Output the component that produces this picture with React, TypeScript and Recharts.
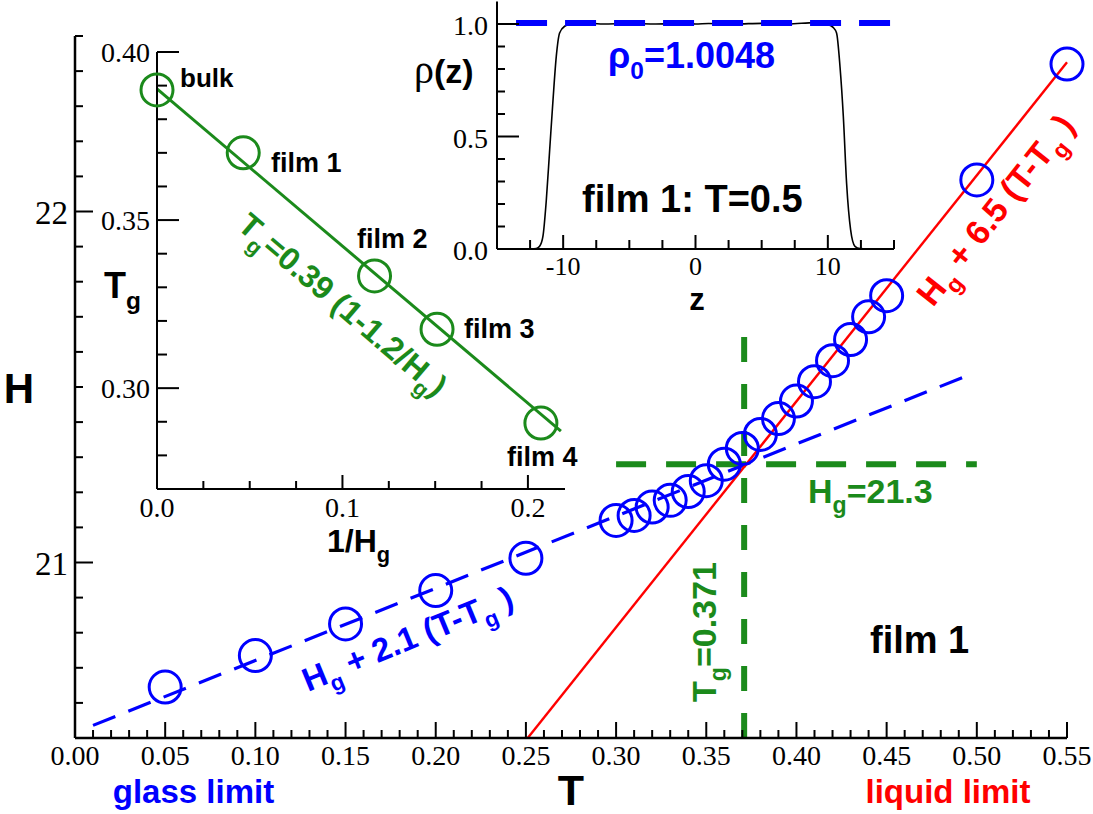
import React from "react";
import { ComposedChart, Line, Scatter, XAxis, YAxis, ReferenceLine } from "recharts";

// main panel: H(T) for film 1
const temps = [0.05, 0.1, 0.15, 0.2, 0.25, 0.3, 0.31, 0.32, 0.33, 0.34, 0.35, 0.36, 0.37, 0.38, 0.39, 0.4, 0.41, 0.42, 0.43, 0.44, 0.45, 0.5, 0.55];
const heights = [20.645, 20.735, 20.825, 20.92, 21.012, 21.12, 21.134, 21.158, 21.177, 21.202, 21.233, 21.28, 21.325, 21.365, 21.41, 21.46, 21.515, 21.575, 21.635, 21.7, 21.76, 22.09, 22.42];
const glassFitT = [0.01, 0.495];
const glassFitH = [20.536, 21.533];
const liquidFitT = [0.251, 0.55];
const liquidFitH = [20.5, 22.425];
const tgLine = { t: 0.371, hFrom: 20.5, hTo: 21.7 };
const hgLine = { h: 21.28, tFrom: 0.3, tTo: 0.5 };

// inset: Tg vs 1/Hg
const invH = [0, 0.0465, 0.1173, 0.151, 0.207];
const tgValues = [0.3887, 0.37, 0.3334, 0.3175, 0.2896];
const tgFitX = [0, 0.2178];
const tgFitY = [0.389, 0.2872];

// inset: density profile rho(z), film 1 at T=0.5
const zValues = [-15, -13, -12.4, -12.03, -11.78, -11.53, -11.27, -11.02, -10.77, -10.52, -10.27, -9.89, -9.38, -9, -7, -5, -3, -1, 0, 1, 3, 5, 7, 9, 9.5, 10.03, 10.4, 10.66, 10.92, 11.17, 11.42, 11.72, 12.05, 12.43, 13, 15];
const rhoValues = [0, 0, 0, 0.002, 0.012, 0.056, 0.22, 0.44, 0.66, 0.856, 0.96, 0.99, 1.0, 1.006, 1.0, 1.002, 1.0, 1.003, 1.0, 1.002, 1.0, 1.003, 1.0, 1.006, 1.0, 0.997, 0.985, 0.96, 0.81, 0.59, 0.29, 0.086, 0.012, 0.002, 0, 0];
const rhoBulkZ = [-13.56, 15];
const rhoBulk = 1.0048;

// axis ticks
const mainXMajor = [0, 0.05, 0.1, 0.15, 0.2, 0.25, 0.3, 0.35, 0.4, 0.45, 0.5, 0.55];
const mainXLabels = ["0.00", "0.05", "0.10", "0.15", "0.20", "0.25", "0.30", "0.35", "0.40", "0.45", "0.50", "0.55"];
const mainYMajor = [21, 22];
const mainYLabels = ["21", "22"];
const tgYMajor = [0.3, 0.35, 0.4];
const tgYLabels = ["0.30", "0.35", "0.40"];
const tgXMajor = [0, 0.1, 0.2];
const tgXLabels = ["0.0", "0.1", "0.2"];
const rhoYMajor = [0, 0.5, 1.0];
const rhoYLabels = ["0.0", "0.5", "1.0"];
const rhoXMajor = [-10, 0, 10];
const rhoXLabels = ["-10", "0", "10"];

const steps = (from: number, to: number, step: number) => {
  const out: number[] = [];
  for (let i = 0; from + i * step <= to + 1e-9; i++) out.push(+(from + i * step).toFixed(4));
  return out;
};
const withMinor = (majors: number[], minors: number[]) =>
  [...majors, ...minors.filter((m) => !majors.some((v) => Math.abs(v - m) < 1e-9))].sort((a, b) => a - b);

const mainXTicks = withMinor(mainXMajor, steps(0.01, 0.54, 0.01));
const mainYTicks = withMinor(mainYMajor, steps(20.6, 22.5, 0.1));
const tgYTicks = withMinor(tgYMajor, steps(0.28, 0.39, 0.01));
const tgXTicks = withMinor(tgXMajor, steps(0.025, 0.175, 0.025));
const rhoYTicks = withMinor(rhoYMajor, steps(0.1, 0.9, 0.1));
const rhoXTicks = withMinor(rhoXMajor, steps(-12.5, 15, 2.5));

const BLUE = "#0000ff";
const RED = "#ff0000";
const GREEN = "#1b8a1b";
const SANS = "'Liberation Sans', Arial, sans-serif";
const SERIF = "'Liberation Serif', 'Times New Roman', Times, serif";

const mainData = temps.map((t, i) => ({ T: t, H: heights[i] }));
const glassData = glassFitT.map((t, i) => ({ T: t, H: glassFitH[i] }));
const liquidData = liquidFitT.map((t, i) => ({ T: t, H: liquidFitH[i] }));
const tgData = invH.map((x, i) => ({ x, tg: tgValues[i] }));
const tgFitData = tgFitX.map((x, i) => ({ x, tg: tgFitY[i] }));
const rhoData = zValues.map((z, i) => ({ z, rho: rhoValues[i] }));
const rhoBulkData = rhoBulkZ.map((z) => ({ z, rho: rhoBulk }));

type TickOpts = {
  side: "bottom" | "left";
  majors: number[];
  labels: string[];
  majorLen: number;
  minorLen: number;
  fontSize: number;
  offset: number;
  dy?: number;
  width?: number;
};

const makeTick = (o: TickOpts) => (props: any) => {
  const { x, y, payload } = props;
  const idx = o.majors.findIndex((m) => Math.abs(m - payload.value) < 1e-9);
  const len = idx >= 0 ? o.majorLen : o.minorLen;
  const w = o.width ?? 2;
  const labelStyle = { fontFamily: SERIF, fontSize: o.fontSize, fill: "#000" };
  if (o.side === "bottom") {
    return (
      <g>
        <line x1={x} y1={y} x2={x} y2={y - len} stroke="#000" strokeWidth={w} />
        {idx >= 0 && (
          <text x={x} y={y + o.offset} textAnchor="middle" style={labelStyle}>
            {o.labels[idx]}
          </text>
        )}
      </g>
    );
  }
  return (
    <g>
      <line x1={x} y1={y} x2={x + len} y2={y} stroke="#000" strokeWidth={w} />
      {idx >= 0 && (
        <text x={x - o.offset} y={y + (o.dy ?? 0)} textAnchor="end" style={labelStyle}>
          {o.labels[idx]}
        </text>
      )}
    </g>
  );
};

const circleShape = (color: string) => (props: any) =>
  <circle cx={props.cx} cy={props.cy} r={16} fill="none" stroke={color} strokeWidth={3} />;

const Sub = ({ base, sub, rest, fs }: { base: string; sub: string; rest?: string; fs: number }) => (
  <>
    <tspan>{base}</tspan>
    <tspan dy={fs * 0.3} fontSize={fs * 0.68}>{sub}</tspan>
    {rest !== undefined && <tspan dy={-fs * 0.3}>{rest}</tspan>}
  </>
);

const W = 1093;
const Hh = 814;

function MainChart() {
  return (
    <ComposedChart width={W} height={Hh} data={mainData} margin={{ top: 36, right: 26, left: 15, bottom: 46 }}>
      <XAxis
        dataKey="T"
        type="number"
        domain={[0, 0.55]}
        ticks={mainXTicks}
        interval={0}
        height={30}
        tickSize={0}
        tickMargin={0}
        tickLine={false}
        axisLine={{ stroke: "#000", strokeWidth: 2.5 }}
        tick={makeTick({ side: "bottom", majors: mainXMajor, labels: mainXLabels, majorLen: 16, minorLen: 8, fontSize: 28, offset: 27 })}
      />
      <YAxis
        dataKey="H"
        type="number"
        domain={[20.5, 22.5]}
        ticks={mainYTicks}
        interval={0}
        width={60}
        tickSize={0}
        tickMargin={0}
        tickLine={false}
        axisLine={{ stroke: "#000", strokeWidth: 2.5 }}
        tick={makeTick({ side: "left", majors: mainYMajor, labels: mainYLabels, majorLen: 18, minorLen: 8, fontSize: 33, offset: 7, dy: 12 })}
      />
      <ReferenceLine
        segment={[{ x: tgLine.t, y: tgLine.hFrom }, { x: tgLine.t, y: tgLine.hTo }]}
        stroke={GREEN}
        strokeWidth={6}
        strokeDasharray="25 22"
      />
      <ReferenceLine
        segment={[{ x: hgLine.tFrom, y: hgLine.h }, { x: hgLine.tTo, y: hgLine.h }]}
        stroke={GREEN}
        strokeWidth={6}
        strokeDasharray="30 20"
      />
      <Line data={glassData} dataKey="H" type="linear" dot={false} stroke={BLUE} strokeWidth={3.2} strokeDasharray="24 14" isAnimationActive={false} />
      <Line data={liquidData} dataKey="H" type="linear" dot={false} stroke={RED} strokeWidth={2.4} isAnimationActive={false} />
      <Scatter data={mainData} shape={circleShape(BLUE)} isAnimationActive={false} />
    </ComposedChart>
  );
}

function TgInset() {
  return (
    <ComposedChart width={W} height={Hh} data={tgData} margin={{ top: 52, right: 528, left: 97, bottom: 295 }}>
      <XAxis
        dataKey="x"
        type="number"
        domain={[0, 0.22]}
        ticks={tgXTicks}
        interval={0}
        height={30}
        tickSize={0}
        tickMargin={0}
        tickLine={false}
        axisLine={{ stroke: "#000", strokeWidth: 2 }}
        tick={makeTick({ side: "bottom", majors: tgXMajor, labels: tgXLabels, majorLen: 14, minorLen: 8, fontSize: 28, offset: 28 })}
      />
      <YAxis
        dataKey="tg"
        type="number"
        domain={[0.27, 0.4]}
        ticks={tgYTicks}
        interval={0}
        width={60}
        tickSize={0}
        tickMargin={0}
        tickLine={false}
        axisLine={{ stroke: "#000", strokeWidth: 2 }}
        tick={makeTick({ side: "left", majors: tgYMajor, labels: tgYLabels, majorLen: 22, minorLen: 10, fontSize: 28, offset: 7, dy: 10 })}
      />
      <Line data={tgFitData} dataKey="tg" type="linear" dot={false} stroke={GREEN} strokeWidth={3} isAnimationActive={false} />
      <Scatter data={tgData} shape={circleShape(GREEN)} isAnimationActive={false} />
    </ComposedChart>
  );
}

function RhoInset() {
  return (
    <ComposedChart width={W} height={Hh} data={rhoData} margin={{ top: 1.5, right: 199, left: 437, bottom: 535 }}>
      <XAxis
        dataKey="z"
        type="number"
        domain={[-15, 15]}
        ticks={rhoXTicks}
        interval={0}
        height={30}
        tickSize={0}
        tickMargin={0}
        tickLine={false}
        axisLine={{ stroke: "#000", strokeWidth: 2 }}
        tick={makeTick({ side: "bottom", majors: rhoXMajor, labels: rhoXLabels, majorLen: 14, minorLen: 9, fontSize: 26, offset: 26 })}
      />
      <YAxis
        dataKey="rho"
        type="number"
        domain={[0, 1.1]}
        ticks={rhoYTicks}
        interval={0}
        width={60}
        tickSize={0}
        tickMargin={0}
        tickLine={false}
        axisLine={{ stroke: "#000", strokeWidth: 2 }}
        tick={makeTick({ side: "left", majors: rhoYMajor, labels: rhoYLabels, majorLen: 22, minorLen: 8, fontSize: 28, offset: 9, dy: 11 })}
      />
      <Line data={rhoData} dataKey="rho" type="monotone" dot={false} stroke="#000" strokeWidth={1.6} isAnimationActive={false} />
      <Line data={rhoBulkData} dataKey="rho" type="linear" dot={false} stroke={BLUE} strokeWidth={6} strokeDasharray="31 18" isAnimationActive={false} />
    </ComposedChart>
  );
}

function Annotations() {
  const bold = { fontFamily: SANS, fontWeight: 700 } as const;
  return (
    <svg width={W} height={Hh} style={{ position: "absolute", left: 0, top: 0 }}>
      {/* main panel */}
      <text x={19} y={403} fontSize={42} textAnchor="middle" style={bold}>H</text>
      <text x={571} y={805} fontSize={43} textAnchor="middle" style={bold}>T</text>
      <text x={193.5} y={803} fontSize={33} textAnchor="middle" fill={BLUE} style={bold}>glass limit</text>
      <text x={948} y={803} fontSize={33} textAnchor="middle" fill={RED} style={bold}>liquid limit</text>
      <text x={870} y={653} fontSize={38} style={bold}>film 1</text>
      <text x={808} y={503} fontSize={34} fill={GREEN} style={bold}>
        <Sub base="H" sub="g" rest="=21.3" fs={34} />
      </text>
      <text transform="translate(716,702) rotate(-90)" fontSize={34} fill={GREEN} style={bold}>
        <Sub base="T" sub="g" rest="=0.371" fs={34} />
      </text>
      <text transform="translate(308,692) rotate(-22.4)" fontSize={33} fill={BLUE} style={bold}>
        <Sub base="H" sub="g" rest=" + 2.1 (T-T" fs={33} />
        <tspan dy={33 * 0.3} fontSize={33 * 0.68}>g</tspan>
        <tspan dy={-33 * 0.3}> )</tspan>
      </text>
      <text transform="translate(933,308) rotate(-51.7)" fontSize={34} fill={RED} style={bold}>
        <Sub base="H" sub="g" rest=" + 6.5 (T-T" fs={34} />
        <tspan dy={34 * 0.3} fontSize={34 * 0.68}>g</tspan>
        <tspan dy={-34 * 0.3}> )</tspan>
      </text>

      {/* Tg inset */}
      <text x={180} y={87} fontSize={26} style={bold}>bulk</text>
      <text x={271} y={172} fontSize={27} style={bold}>film 1</text>
      <text x={357} y={248} fontSize={27} style={bold}>film 2</text>
      <text x={464} y={338} fontSize={27} style={bold}>film 3</text>
      <text x={507} y={466} fontSize={27} style={bold}>film 4</text>
      <text x={104} y={298} fontSize={36} style={bold}>
        <Sub base="T" sub="g" fs={36} />
      </text>
      <text x={327} y={552} fontSize={32} style={bold}>
        <Sub base="1/H" sub="g" fs={32} />
      </text>
      <text transform="translate(236,228) rotate(40.5)" fontSize={32} fill={GREEN} style={bold}>
        <Sub base="T" sub="g" rest="=0.39 (1-1.2/H" fs={32} />
        <tspan dy={32 * 0.3} fontSize={32 * 0.68}>g</tspan>
        <tspan dy={-32 * 0.3}>)</tspan>
      </text>

      {/* rho inset */}
      <text x={414} y={83} fontSize={34} style={bold}>
        <tspan style={{ fontFamily: SERIF, fontWeight: 400 }} fontSize={40}>ρ</tspan>
        <tspan>(z)</tspan>
      </text>
      <text x={697} y={310} fontSize={31} textAnchor="middle" style={bold}>z</text>
      <text x={608} y={68} fontSize={36} fill={BLUE} style={bold}>
        <Sub base="ρ" sub="0" rest="=1.0048" fs={36} />
      </text>
      <text x={582} y={212} fontSize={38} style={bold}>film 1: T=0.5</text>
    </svg>
  );
}

export default function App() {
  return (
    <div style={{ position: "absolute", left: 0, top: 0, width: W, height: Hh, background: "#fff" }}>
      <div style={{ position: "absolute", left: 0, top: 0 }}>
        <MainChart />
      </div>
      <div style={{ position: "absolute", left: 0, top: 0 }}>
        <TgInset />
      </div>
      <div style={{ position: "absolute", left: 0, top: 0 }}>
        <RhoInset />
      </div>
      <Annotations />
    </div>
  );
}
